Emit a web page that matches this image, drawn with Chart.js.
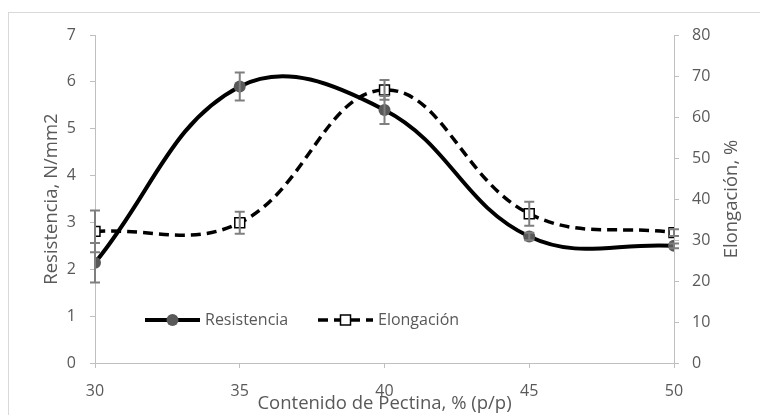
<!DOCTYPE html>
<html>
<head>
<meta charset="utf-8">
<script src="https://cdn.jsdelivr.net/npm/chart.js@4.4.0/dist/chart.umd.min.js"></script>
<style>
  body { margin: 0; background: #fff; }
  #wrap { position: relative; width: 760px; height: 415px; }
  #frame { position: absolute; left: 8px; top: 12px; right: -2px; bottom: -2px; border: 1px solid #d9d9d9; }
</style>
</head>
<body>
<div id="wrap">
  <div id="frame"></div>
  <canvas id="chart"></canvas>
</div>
<script>
// data
const pectina = [30, 35, 40, 45, 50];
const resistencia = [2.14, 5.9, 5.4, 2.7, 2.5];
const resistenciaErr = [0.42, 0.3, 0.3, 0.08, 0.05];
const elongacion = [32.1, 34.2, 66.6, 36.4, 31.8];
const elongacionErr = [5.1, 2.7, 2.4, 2.9, 0.8];

const xTicks = [30, 35, 40, 45, 50];

const gray = '#595959';
const axisGray = '#bfbfbf';
const tickFont = { family: 'Open Sans', size: 16 };
const titleFont = { family: 'Open Sans', size: 18.5 };
const legendFont = { family: 'Open Sans', size: 16 };

function toPoints(xs, ys) {
    return xs.map((x, i) => ({ x: x, y: ys[i] }));
}

// error bars, legend and right title drawn with the chart's own scales
const extras = {
    id: 'extras',
    afterDatasetsDraw(chart) {
        const ctx = chart.ctx;
        const xs = chart.scales.x;
        const bars = [
            { scale: chart.scales.y, vals: resistencia, errs: resistenciaErr },
            { scale: chart.scales.y2, vals: elongacion, errs: elongacionErr }
        ];
        ctx.save();
        ctx.strokeStyle = '#7f7f7f';
        ctx.lineWidth = 2;
        bars.forEach(b => {
            pectina.forEach((p, i) => {
                const px = xs.getPixelForValue(p);
                const hi = b.scale.getPixelForValue(b.vals[i] + b.errs[i]);
                const lo = b.scale.getPixelForValue(b.vals[i] - b.errs[i]);
                ctx.beginPath();
                ctx.moveTo(px, hi); ctx.lineTo(px, lo);
                ctx.moveTo(px - 5, hi); ctx.lineTo(px + 5, hi);
                ctx.moveTo(px - 5, lo); ctx.lineTo(px + 5, lo);
                ctx.stroke();
            });
        });
        ctx.restore();
    },
    afterDraw(chart) {
        const ctx = chart.ctx;
        const ds = chart.data.datasets;
        const ly = 320;
        const items = [
            { x0: 145, x1: 200, text: 'Resistencia', d: ds[0] },
            { x0: 318, x1: 373, text: 'Elongación', d: ds[1] }
        ];
        ctx.save();
        items.forEach(it => {
            ctx.strokeStyle = it.d.borderColor;
            ctx.lineWidth = it.d.borderWidth;
            ctx.setLineDash(it.d.borderDash || []);
            ctx.beginPath();
            ctx.moveTo(it.x0, ly); ctx.lineTo(it.x1, ly);
            ctx.stroke();
            ctx.setLineDash([]);
            const mx = (it.x0 + it.x1) / 2;
            if (it.d.pointStyle === 'rect') {
                ctx.fillStyle = it.d.pointBackgroundColor;
                ctx.fillRect(mx - 5, ly - 5, 10, 10);
                ctx.lineWidth = it.d.pointBorderWidth;
                ctx.strokeStyle = it.d.pointBorderColor;
                ctx.strokeRect(mx - 5, ly - 5, 10, 10);
            } else {
                ctx.fillStyle = it.d.pointBackgroundColor;
                ctx.beginPath();
                ctx.arc(mx, ly, it.d.pointRadius, 0, Math.PI * 2);
                ctx.fill();
            }
            ctx.fillStyle = gray;
            ctx.font = legendFont.size + 'px "' + legendFont.family + '"';
            ctx.textBaseline = 'middle';
            ctx.textAlign = 'left';
            ctx.fillText(it.text, it.x1 + 5, ly);
        });

        // right axis title reads bottom to top, like the left one
        const y2 = chart.scales.y2;
        ctx.font = titleFont.size + 'px "' + titleFont.family + '"';
        ctx.translate(732, (y2.top + y2.bottom) / 2);
        ctx.rotate(-Math.PI / 2);
        ctx.textAlign = 'center';
        ctx.fillText('Elongación, %', 0, 0);
        ctx.restore();
    }
};

new Chart('chart', {
    type: 'line',
    data: {
        datasets: [
            {
                label: 'Resistencia',
                data: toPoints(pectina, resistencia),
                yAxisID: 'y',
                borderColor: '#000000',
                borderWidth: 4,
                tension: 0.4,
                pointStyle: 'circle',
                pointRadius: 6,
                pointBackgroundColor: gray,
                pointBorderColor: gray,
                pointBorderWidth: 0,
                fill: false
            },
            {
                label: 'Elongación',
                data: toPoints(pectina, elongacion),
                yAxisID: 'y2',
                borderColor: '#000000',
                borderWidth: 3.5,
                borderDash: [10, 6],
                tension: 0.4,
                pointStyle: 'rect',
                pointRadius: 7,
                pointBackgroundColor: '#ffffff',
                pointBorderColor: '#000000',
                pointBorderWidth: 1.5,
                fill: false
            }
        ]
    },
    options: {
        responsive: true,
        maintainAspectRatio: false,
        animation: false,
        layout: { padding: { top: 35, left: 0, right: 0, bottom: 0 } },
        plugins: {
            legend: { display: false },
            tooltip: { enabled: false }
        },
        scales: {
            x: {
                type: 'linear',
                min: 30,
                max: 50,
                afterBuildTicks: s => { s.ticks = xTicks.map(v => ({ value: v })); },
                afterFit: s => { s.height = 52; },
                grid: { drawOnChartArea: false, color: axisGray, tickLength: 5 },
                border: { color: axisGray },
                ticks: { color: gray, font: tickFont, padding: 14 },
                title: { display: true, text: 'Contenido de Pectina, % (p/p)', color: gray, font: titleFont, padding: { top: 0, bottom: 0 } }
            },
            y: {
                position: 'left',
                min: 0,
                max: 7,
                afterFit: s => { s.width = 95; },
                grid: { drawOnChartArea: false, color: axisGray, tickLength: 5 },
                border: { color: axisGray },
                ticks: { stepSize: 1, color: gray, font: tickFont, padding: 14 },
                title: { display: true, text: 'Resistencia, N/mm2', color: gray, font: titleFont, padding: { top: 41, bottom: 0 } }
            },
            y2: {
                position: 'right',
                min: 0,
                max: 80,
                afterFit: s => { s.width = 86; },
                grid: { drawOnChartArea: false, color: axisGray, tickLength: 5 },
                border: { color: axisGray },
                ticks: { stepSize: 10, color: gray, font: tickFont, padding: 13 }
            }
        }
    },
    plugins: [extras]
});
</script>
</body>
</html>
